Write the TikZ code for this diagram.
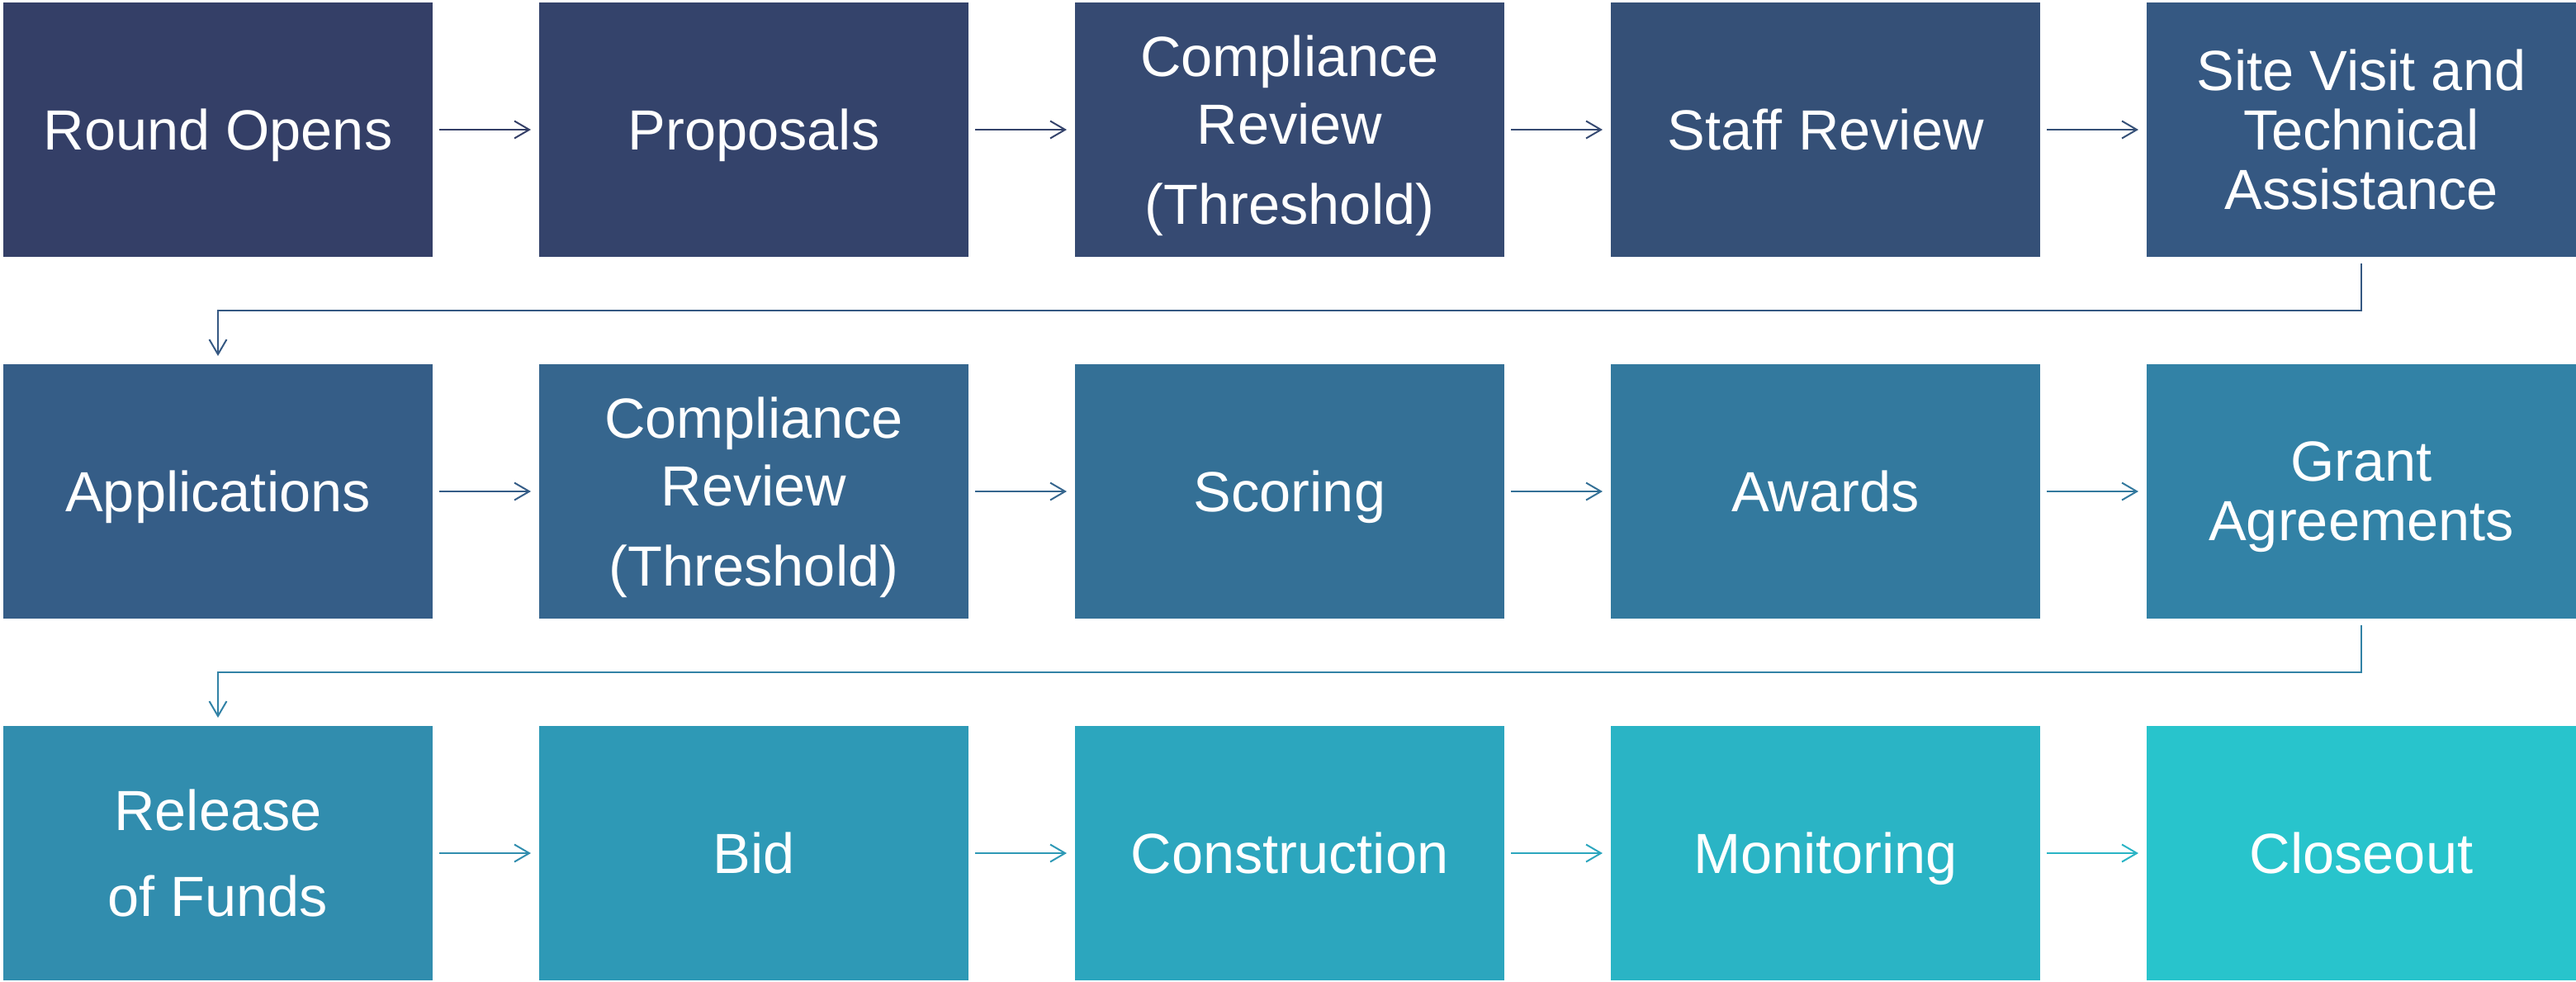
\documentclass[tikz,border=0pt]{standalone}
\usepackage{fontspec}
\setmainfont{Liberation Sans}
\usetikzlibrary{positioning,arrows.meta}

% one tone per box, dark navy to teal
\definecolor{tone1}{HTML}{343F67}
\definecolor{tone2}{HTML}{34436B}
\definecolor{tone3}{HTML}{364A72}
\definecolor{tone4}{HTML}{355077}
\definecolor{tone5}{HTML}{355882}
\definecolor{tone6}{HTML}{355D87}
\definecolor{tone7}{HTML}{36668E}
\definecolor{tone8}{HTML}{347096}
\definecolor{tone9}{HTML}{33799E}
\definecolor{tone10}{HTML}{3282A6}
\definecolor{tone11}{HTML}{318DAE}
\definecolor{tone12}{HTML}{2E99B6}
\definecolor{tone13}{HTML}{2CA6BE}
\definecolor{tone14}{HTML}{2AB4C5}
\definecolor{tone15}{HTML}{28C4CC}

% last line without its descender, so the block sits on the caps
\newcommand{\flatline}[1]{\raisebox{0pt}[\height][0pt]{#1}}

\begin{document}
\begin{tikzpicture}[
        box/.style={rectangle, minimum width=5.2cm, minimum height=3.08cm,
            inner sep=0pt, outer sep=0pt, text=white, align=center,
            font=\fontsize{19.5}{20.5}\selectfont},
        oneline/.style={box, text height=14pt, text depth=0pt},
        flow/.style={-{Straight Barb[length=1.8mm,width=2.1mm]}, line width=0.2mm,
            shorten <=0.8mm, shorten >=1mm},
        node distance=1.3cm and 1.29cm]
    \useasboundingbox (0,0) rectangle (31.2,-11.88);

    % first row
    \node[oneline, fill=tone1] (open) at (2.64,-1.57) {Round Opens};
    \node[oneline, fill=tone2, right=of open] (prop) {Proposals};
    \node[box, fill=tone3, right=of prop] (comp) {Compliance\\[3pt] Review\\[7pt] \flatline{(Threshold)}};
    \node[oneline, fill=tone4, right=of comp] (staff) {Staff Review};
    \node[box, fill=tone5, right=of staff] (site) {Site Visit and\\ Technical\\ Assistance};

    % second row
    \node[oneline, fill=tone6, below=of open] (apps) {Applications};
    \node[box, fill=tone7, right=of apps] (recomp) {Compliance\\[3pt] Review\\[7pt] \flatline{(Threshold)}};
    \node[oneline, fill=tone8, right=of recomp] (score) {Scoring};
    \node[oneline, fill=tone9, right=of score] (award) {Awards};
    \node[box, fill=tone10, right=of award] (grant) {Grant\\ \flatline{Agreements}};

    % third row
    \node[box, fill=tone11, below=of apps] (funds) {Release\\[9pt] of Funds};
    \node[oneline, fill=tone12, right=of funds] (bid) {Bid};
    \node[oneline, fill=tone13, right=of bid] (build) {Construction};
    \node[oneline, fill=tone14, right=of build] (watch) {Monitoring};
    \node[oneline, fill=tone15, right=of watch] (close) {Closeout};

    \draw[flow, tone1] (open) -- (prop);
    \draw[flow, tone2] (prop) -- (comp);
    \draw[flow, tone3] (comp) -- (staff);
    \draw[flow, tone4] (staff) -- (site);
    \draw[flow, tone5] (site.south) -- ++(0,-0.65) -| (apps.north);

    \draw[flow, tone6] (apps) -- (recomp);
    \draw[flow, tone7] (recomp) -- (score);
    \draw[flow, tone8] (score) -- (award);
    \draw[flow, tone9] (award) -- (grant);
    \draw[flow, tone10] (grant.south) -- ++(0,-0.65) -| (funds.north);

    \draw[flow, tone11] (funds) -- (bid);
    \draw[flow, tone12] (bid) -- (build);
    \draw[flow, tone13] (build) -- (watch);
    \draw[flow, tone14] (watch) -- (close);
\end{tikzpicture}
\end{document}
